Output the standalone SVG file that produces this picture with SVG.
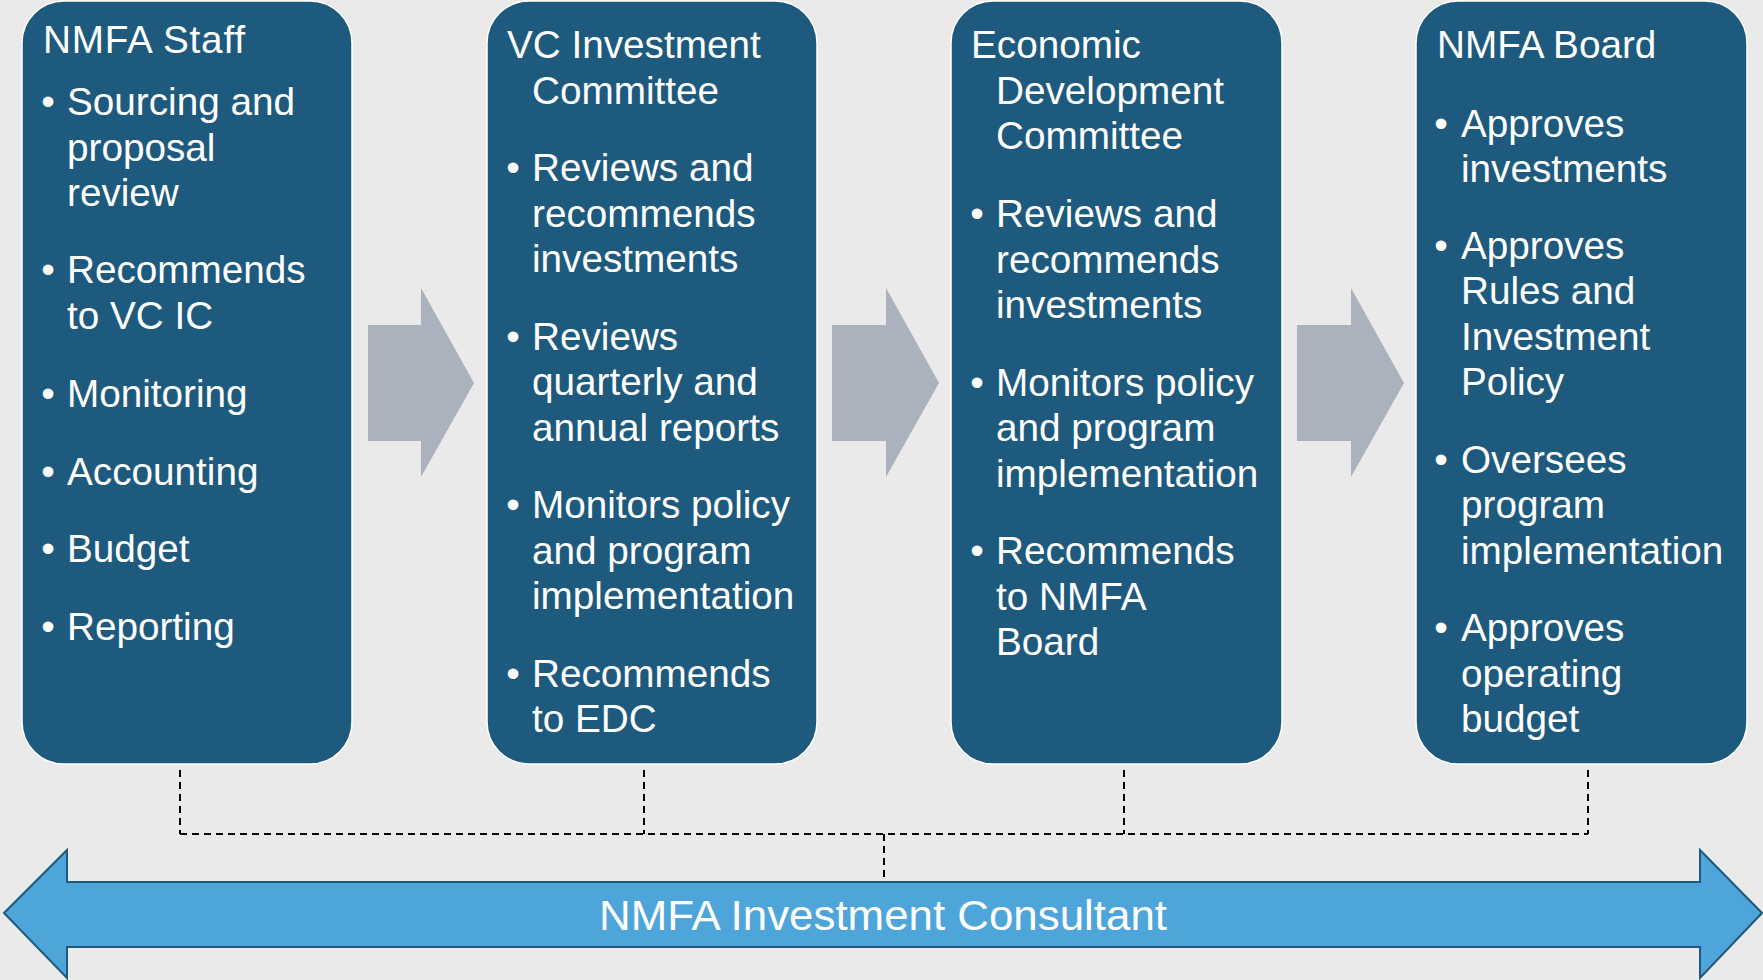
<svg xmlns="http://www.w3.org/2000/svg" width="1763" height="980" viewBox="0 0 1763 980">
<style>
.box{fill:#1E5A7D;stroke:#FFFFFF;stroke-width:1.5}
.t{font-family:"Liberation Sans",Arial,sans-serif;font-size:38.7px;fill:#FFFFFF}
.b{font-family:"Liberation Sans",Arial,sans-serif;font-size:38.7px;fill:#FFFFFF;text-anchor:middle}
.flow{fill:#ABB2BE}
.dash{fill:none;stroke:#000000;stroke-width:2;stroke-dasharray:7,5}
.big{fill:#4EA5D9;stroke:#1F5A7D;stroke-width:2}
.bigt{font-family:"Liberation Sans",Arial,sans-serif;font-size:42px;fill:#FFFFFF;text-anchor:middle}
</style>
<rect width="1763" height="980" fill="#EAEAEA"/>

<g id="connectors">
<path class="dash" d="M180,770 V834 M644,770 V834 M1124,770 V834 M1588,770 V834 M180,834 H1588 M884,834 V880"/>
<polygon class="flow" points="368,325 421,325 421,288 474,383 421,477 421,441 368,441"/>
<polygon class="flow" points="832,325 886,325 886,288 939,383 886,477 886,441 832,441"/>
<polygon class="flow" points="1297,325 1351,325 1351,288 1404,383 1351,477 1351,441 1297,441"/>
</g>

<g id="staff">
<rect class="box" x="22" y="1" width="330" height="763" rx="42" ry="42"/>
<text class="t" x="43" y="53" textLength="202" lengthAdjust="spacing">NMFA Staff</text>
<text class="b" x="48" y="115">•</text>
<text class="t" x="67" y="115">Sourcing and</text>
<text class="t" x="67" y="161">proposal</text>
<text class="t" x="67" y="206">review</text>
<text class="b" x="48" y="283">•</text>
<text class="t" x="67" y="283">Recommends</text>
<text class="t" x="67" y="329">to VC IC</text>
<text class="b" x="48" y="407">•</text>
<text class="t" x="67" y="407">Monitoring</text>
<text class="b" x="48" y="485">•</text>
<text class="t" x="67" y="485">Accounting</text>
<text class="b" x="48" y="562">•</text>
<text class="t" x="67" y="562">Budget</text>
<text class="b" x="48" y="640">•</text>
<text class="t" x="67" y="640">Reporting</text>
</g>

<g id="vcic">
<rect class="box" x="487" y="1" width="330" height="763" rx="42" ry="42"/>
<text class="t" x="507" y="58">VC Investment</text>
<text class="t" x="532" y="104">Committee</text>
<text class="b" x="513" y="181">•</text>
<text class="t" x="532" y="181">Reviews and</text>
<text class="t" x="532" y="227">recommends</text>
<text class="t" x="532" y="272">investments</text>
<text class="b" x="513" y="350">•</text>
<text class="t" x="532" y="350">Reviews</text>
<text class="t" x="532" y="395">quarterly and</text>
<text class="t" x="532" y="441">annual reports</text>
<text class="b" x="513" y="518">•</text>
<text class="t" x="532" y="518">Monitors policy</text>
<text class="t" x="532" y="564">and program</text>
<text class="t" x="532" y="609">implementation</text>
<text class="b" x="513" y="687">•</text>
<text class="t" x="532" y="687">Recommends</text>
<text class="t" x="532" y="732">to EDC</text>
</g>

<g id="edc">
<rect class="box" x="951" y="1" width="331" height="763" rx="42" ry="42"/>
<text class="t" x="971" y="58">Economic</text>
<text class="t" x="996" y="104">Development</text>
<text class="t" x="996" y="149">Committee</text>
<text class="b" x="977" y="227">•</text>
<text class="t" x="996" y="227">Reviews and</text>
<text class="t" x="996" y="273">recommends</text>
<text class="t" x="996" y="318">investments</text>
<text class="b" x="977" y="396">•</text>
<text class="t" x="996" y="396">Monitors policy</text>
<text class="t" x="996" y="441">and program</text>
<text class="t" x="996" y="487">implementation</text>
<text class="b" x="977" y="564">•</text>
<text class="t" x="996" y="564">Recommends</text>
<text class="t" x="996" y="610">to NMFA</text>
<text class="t" x="996" y="655">Board</text>
</g>

<g id="board">
<rect class="box" x="1416" y="1" width="331" height="763" rx="42" ry="42"/>
<text class="t" x="1437" y="58">NMFA Board</text>
<text class="b" x="1441" y="137">•</text>
<text class="t" x="1461" y="137">Approves</text>
<text class="t" x="1461" y="182">investments</text>
<text class="b" x="1441" y="259">•</text>
<text class="t" x="1461" y="259">Approves</text>
<text class="t" x="1461" y="304">Rules and</text>
<text class="t" x="1461" y="350">Investment</text>
<text class="t" x="1461" y="395">Policy</text>
<text class="b" x="1441" y="473">•</text>
<text class="t" x="1461" y="473">Oversees</text>
<text class="t" x="1461" y="518">program</text>
<text class="t" x="1461" y="564">implementation</text>
<text class="b" x="1441" y="641">•</text>
<text class="t" x="1461" y="641">Approves</text>
<text class="t" x="1461" y="687">operating</text>
<text class="t" x="1461" y="732">budget</text>
</g>

<g id="consultant">
<polygon class="big" points="4,913 67,850 67,882 1700,882 1700,850 1762,913 1700,978 1700,947 67,947 67,978"/>
<text class="bigt" x="883" y="930" textLength="568" lengthAdjust="spacingAndGlyphs">NMFA Investment Consultant</text>
</g>
</svg>
